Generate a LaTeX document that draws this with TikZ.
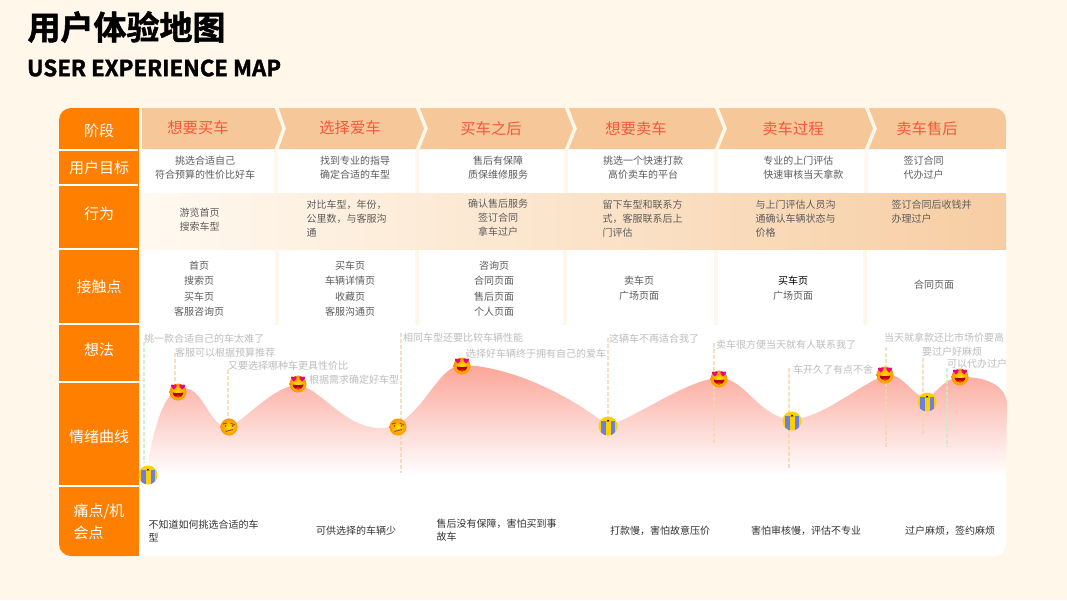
\documentclass[tikz,border=0pt]{standalone}
\usepackage{fontspec}
\setmainfont{Noto Sans CJK SC}[BoldFont={Noto Sans CJK SC Bold}]
\newfontfamily\blkfont{Noto Sans CJK SC Bold}[FakeBold=1.6]
\definecolor{BG1}{HTML}{FFF7EA}
\definecolor{OR1}{HTML}{FF7F00}
\definecolor{ST1}{HTML}{F6C899}
\definecolor{RD1}{HTML}{F5583A}
\definecolor{CV1}{HTML}{FBA598}
\definecolor{DT1}{HTML}{F2D7AE}
\definecolor{DG1}{HTML}{C6EDC2}
\definecolor{TE1}{HTML}{5C5C5C}
\definecolor{TE2}{HTML}{BDBDBD}
\definecolor{TE3}{HTML}{333333}
\definecolor{CR1}{HTML}{6B7FE0}
\definecolor{CR2}{HTML}{FFD000}
\tikzset{
    TT1/.style ={anchor=west,font=\fontsize{33}{36}\blkfont},
    TT2/.style ={anchor=west,font=\fontsize{22.2}{24}\blkfont},
    HD1/.style ={text=white,font=\fontsize{15}{22}\selectfont,align=left},
    ST2/.style ={text=RD1,font=\fontsize{15.3}{18}\selectfont},
    TC1/.style ={text=TE1,font=\fontsize{10}{14}\selectfont,align=center},
    TL1/.style ={text=TE1,font=\fontsize{10}{14}\selectfont,align=left,anchor=west},
    TP1/.style ={text=TE1,font=\fontsize{10}{15.5}\selectfont,align=center},
    TH1/.style ={text=TE2,font=\fontsize{10}{12}\selectfont,anchor=west,inner sep=0pt},
    PN1/.style ={text=TE3,font=\fontsize{10}{13}\selectfont,align=left},
    DS1/.style ={draw=DT1,opacity=0.8,line width=1.2pt,dash pattern=on 4pt off 2pt},
    DS2/.style ={draw=DG1,opacity=0.8,line width=1.2pt,dash pattern=on 4pt off 2pt},
    SP1/.style ={draw=BG1,line width=3.5pt},
    SP2/.style ={draw=white,line width=2pt},
    BL1/.style ={circle,minimum size=17pt,inner sep=0pt,inner color=yellow!75!orange,outer color=orange!85!yellow},
    pics/HRT/.style={code={
        \fill[magenta!85!red] (0,3) .. controls (-5,-0.5) and (-2.5,-3.5) .. (0,-1.3) .. controls (2.5,-3.5) and (5,-0.5) .. (0,3);}},
    pics/LOVE/.style={code={
        \node[BL1] (-b) at (0,0) {};
        \fill[red!70!black] (-5.5,0.5) .. controls (-3,1.3) and (3,1.3) .. (5.5,0.5) .. controls (4.5,7) and (-4.5,7) .. (-5.5,0.5);
        \fill[red!85!white] (-3,4.3) .. controls (-1,3) and (1,3) .. (3,4.3) .. controls (1.5,6) and (-1.5,6) .. (-3,4.3);
        \pic at (-4.2,-5.5) {HRT};
        \pic at (4.2,-5.5) {HRT};}},
    pics/MEH/.style={code={
        \node[BL1] (-b) at (0,0) {};
        \draw[line width=0.9pt,brown!70!black] (-6,-3) -- (-2,-4);
        \draw[line width=0.9pt,brown!70!black] (1.5,-4) -- (6,-2);
        \fill[brown!70!black] (-3.5,-1.2) circle (1);
        \fill[brown!70!black] (3.5,-1.2) circle (1);
        \draw[line width=1pt,brown!70!black] (-3.5,4.5) -- (4,2.5);}},
    pics/CRY/.style={code={
        \fill[CR2] (0,0) circle (9.5);
        \begin{scope}
            \clip (0,0) circle (9.5);
            \fill[CR1] (-7,-5) rectangle (-2.5,10);
            \fill[CR1] (2.5,-5) rectangle (7,10);
        \end{scope}
        \draw[line width=0.7pt] (-1.2,-4.5) -- (0,-5.8) -- (1.2,-4.5);}}
}
\begin{document}
\begin{tikzpicture}[x=1pt,y=-1pt]
    \useasboundingbox (0,0) rectangle (1067,600);
    \fill[BG1] (0,0) rectangle (1067,600);
    % panel and left column
    \fill[white,rounded corners=12pt] (100,108) rectangle (1006,556);
    \fill[OR1,rounded corners=12pt] (139,108) -- (59,108) -- (59,556) -- (139,556) [sharp corners] -- cycle;
    \fill[OR1] (120,108) rectangle (139,556);
    \fill[BG1] (139,108) rectangle (142,325);
    \fill[ST1] (142,108) [rounded corners=12pt] -- (1006,108) -- (1006,149) [sharp corners] -- (142,149) -- cycle;
    \fill[ST1] (990,130) rectangle (1006,149);
    \shade[left color=BG1!70!white,right color=ST1!90!white] (142,193) rectangle (1006,249);
    \draw[SP2] (59,150) -- (138,150);
    \draw[SP2] (59,185) -- (138,185);
    \draw[SP2] (59,249) -- (138,249);
    \draw[SP2] (59,324) -- (139,324);
    \draw[SP2] (59,382) -- (139,382);
    \draw[SP2] (59,486) -- (139,486);
    \draw[SP1] (276,106) -- (284,128.5) -- (276,151) -- (276,193);
    \draw[SP1] (417,106) -- (426,128.5) -- (417,151) -- (417,193);
    \draw[SP1] (566,106) -- (575,128.5) -- (566,151) -- (566,193);
    \draw[SP1] (716,106) -- (725,128.5) -- (716,151) -- (716,193);
    \draw[SP1] (866,106) -- (875,128.5) -- (866,151) -- (866,193);
    \draw[SP1] (277,250) -- (277,325);
    \draw[SP1] (417,250) -- (417,325);
    \draw[SP1] (565,250) -- (565,325);
    \draw[SP1] (716,250) -- (716,325);
    \draw[SP1] (865,250) -- (865,325);
    % curve
    \shade[top color=CV1,bottom color=white]
        (146,475) .. controls (152,435) and (163,388) .. (183,388)
        .. controls (205,388) and (208,427) .. (229,427)
        .. controls (245,420) and (275,385) .. (298,385)
        .. controls (320,388) and (345,428) .. (380,428)
        .. controls (420,428) and (435,366) .. (462,365)
        .. controls (510,366) and (570,395) .. (608,426)
        .. controls (640,415) and (690,378) .. (720,378)
        .. controls (745,378) and (760,419) .. (792,419)
        .. controls (825,419) and (870,375) .. (890,375)
        .. controls (903,375) and (915,398) .. (927,398)
        .. controls (940,390) and (945,377) .. (963,377)
        .. controls (985,377) and (1007,385) .. (1007,405)
        -- (1006,475) -- cycle;
    % dashes
    \coordinate (b1) at (144,463);
    \coordinate (t1) at (144,342) edge[DS2] (b1);
    \coordinate (b2) at (175,383);
    \coordinate (t2) at (175,353) edge[DS1] (b2);
    \coordinate (b3) at (228,420);
    \coordinate (t3) at (228,370) edge[DS1] (b3);
    \coordinate (b4) at (401,473);
    \coordinate (t4) at (401,333) edge[DS1] (b4);
    \coordinate (b5) at (467,357);
    \coordinate (t5) at (467,352) edge[DS2] (b5);
    \coordinate (b6) at (608,437);
    \coordinate (t6) at (608,338) edge[DS1] (b6);
    \coordinate (b7) at (714,443);
    \coordinate (t7) at (714,343) edge[DS1] (b7);
    \coordinate (b8) at (789,468);
    \coordinate (t8) at (789,368) edge[DS1] (b8);
    \coordinate (b9) at (886,448);
    \coordinate (t9) at (886,347) edge[DS1] (b9);
    \coordinate (b10) at (923,435);
    \coordinate (t10) at (923,358) edge[DS1] (b10);
    \coordinate (b11) at (947,447);
    \coordinate (t11) at (947,368) edge[DS2] (b11);
    % faces
    \pic (f1) at (148,475) {CRY};
    \pic (f2) at (178,392) {LOVE};
    \pic (f3) at (229,427) {MEH};
    \pic (f4) at (298,384) {LOVE};
    \pic (f5) at (398,427) {MEH};
    \pic (f6) at (462,366) {LOVE};
    \pic (f7) at (608,426) {CRY};
    \pic (f8) at (719,379) {LOVE};
    \pic (f9) at (792,421) {CRY};
    \pic (f10) at (885,375) {LOVE};
    \pic (f11) at (927,402) {CRY};
    \pic (f12) at (960,377) {LOVE};
    % titles
    \node[TT1] (title) at (24,27) {用户体验地图};
    \node[TT2] (subtitle) at (23.5,68) {USER EXPERIENCE MAP};
    % left column
    \node[HD1] (h1) at (99,131) {阶段};
    \node[HD1] (h2) at (99,168) {用户目标};
    \node[HD1] (h3) at (99,214) {行为};
    \node[HD1] (h4) at (99,287) {接触点};
    \node[HD1] (h5) at (99,350) {想法};
    \node[HD1] (h6) at (99,437) {情绪曲线};
    \node[HD1] (h7) at (99,522) {痛点/机\\会点};
    % stages
    \node[ST2] (s1) at (198,128) {想要买车};
    \node[ST2] (s2) at (350,128) {选择爱车};
    \node[ST2] (s3) at (491,129) {买车之后};
    \node[ST2] (s4) at (636,129) {想要卖车};
    \node[ST2] (s5) at (793,129) {卖车过程};
    \node[ST2] (s6) at (927,129) {卖车售后};
    % goals
    \node[TC1] (g1) at (205,168) {挑选合适自己\\符合预算的性价比好车};
    \node[TC1] (g2) at (355,168) {找到专业的指导\\确定合适的车型};
    \node[TC1] (g3) at (498,168) {售后有保障\\质保维修服务};
    \node[TC1] (g4) at (643,168) {挑选一个快速打款\\高价卖车的平台};
    \node[TL1] (g5) at (756,168) {\ \,专业的上门评估\\\ \,快速审核当天拿款};
    \node[TL1] (g6) at (900,168) {签订合同\\代办过户};
    % actions
    \node[TL1] (a1) at (176,220) {游览首页\\搜索车型};
    \node[TL1] (a2) at (303,219) {对比车型，年份，\\公里数，与客服沟\\通};
    \node[TC1] (a3) at (498,218) {确认售后服务\\签订合同\\拿车过户};
    \node[TL1] (a4) at (599,219) {留下车型和联系方\\式，客服联系后上\\门评估};
    \node[TL1] (a5) at (752,219) {与上门评估人员沟\\通确认车辆状态与\\价格};
    \node[TL1] (a6) at (888,212) {签订合同后收钱并\\办理过户};
    % touch points
    \node[TP1] (p1) at (199,288.5) {首页\\搜索页\\买车页\\客服咨询页};
    \node[TP1] (p2) at (350,288.5) {买车页\\车辆详情页\\收藏页\\客服沟通页};
    \node[TP1] (p3) at (494,288.5) {咨询页\\合同页面\\售后页面\\个人页面};
    \node[TP1] (p4) at (639,288) {卖车页\\广场页面};
    \node[TP1] (p5) at (793,288) {\textcolor{black}{买车页}\\广场页面};
    \node[TP1] (p6) at (934,285) {合同页面};
    % thoughts
    \node[TH1] (c1) at (144,339) {挑一款合适自己的车太难了};
    \node[TH1] (c2) at (175,353) {客服可以根据预算推荐};
    \node[TH1] (c3) at (228,366) {又要选择哪种车更具性价比};
    \node[TH1] (c4) at (309,380) {根据需求确定好车型};
    \node[TH1] (c5) at (403,338) {相同车型还要比较车辆性能};
    \node[TH1] (c6) at (466,354) {选择好车辆终于拥有自己的爱车};
    \node[TH1] (c7) at (609,339) {这辆车不再适合我了};
    \node[TH1] (c8) at (716,345) {卖车很方便当天就有人联系我了};
    \node[TH1] (c9) at (793,370) {车开久了有点不舍};
    \node[TH1] (c10) at (884,338) {当天就拿款还比市场价要高};
    \node[TH1] (c11) at (922,352) {要过户好麻烦};
    \node[TH1] (c12) at (947,364) {可以代办过户};
    % pain points
    \node[PN1,anchor=west] (n1) at (145,530.5) {不知道如何挑选合适的车\\型};
    \node[PN1] (n2) at (356,531) {可供选择的车辆少};
    \node[PN1,anchor=west] (n3) at (433,530.5) {售后没有保障，害怕买到事\\故车};
    \node[PN1] (n4) at (660,531) {打款慢，害怕故意压价};
    \node[PN1] (n5) at (806,531) {害怕审核慢，评估不专业};
    \node[PN1] (n6) at (950,531) {过户麻烦，签约麻烦};
\end{tikzpicture}
\end{document}
